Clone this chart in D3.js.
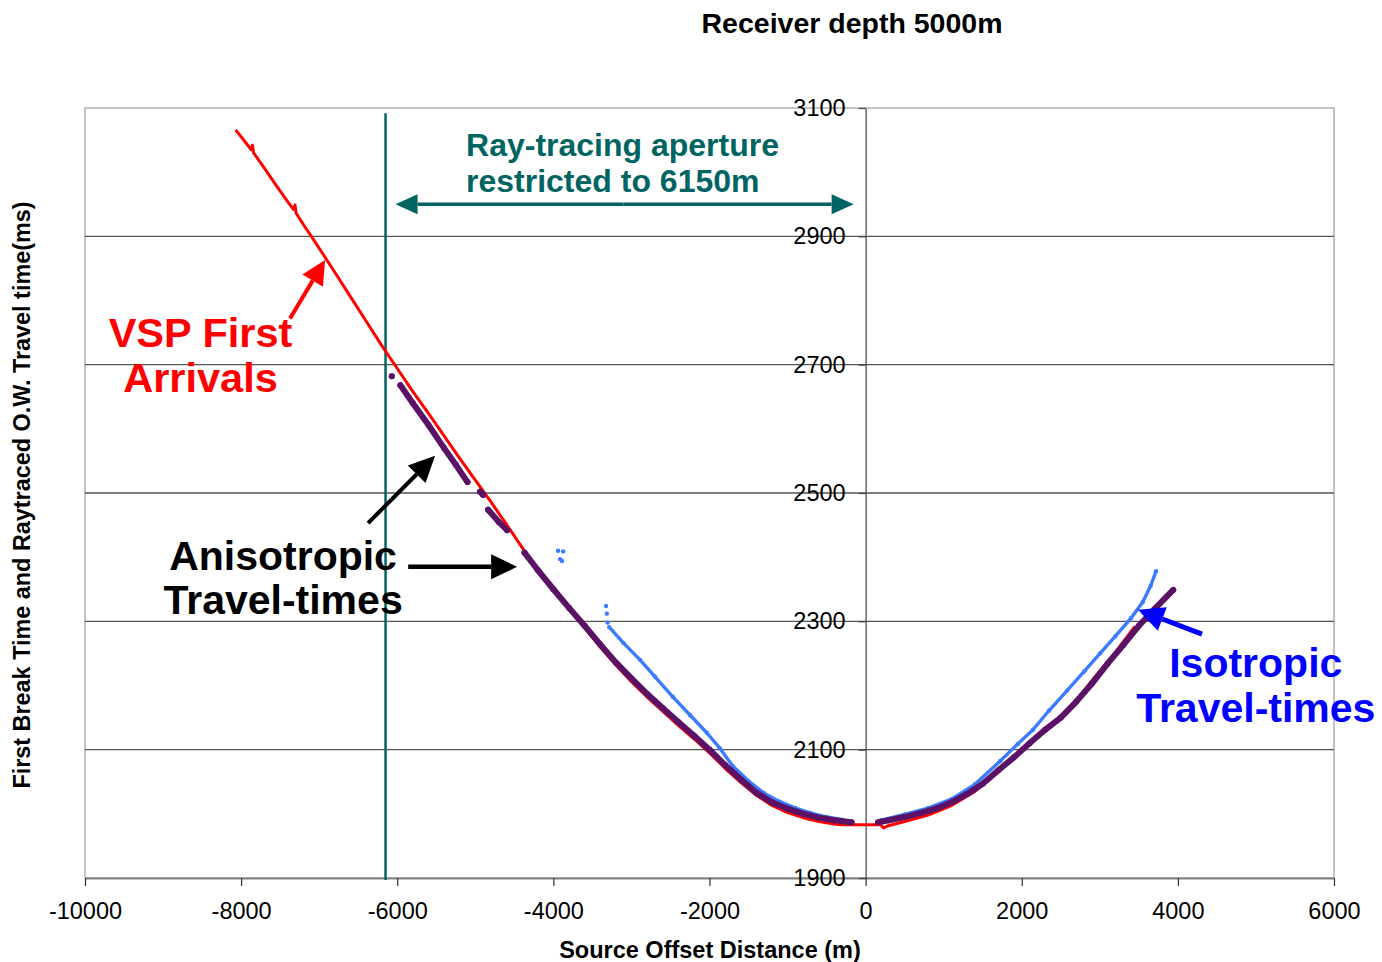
<!DOCTYPE html>
<html>
<head>
<meta charset="utf-8">
<script src="https://cdn.jsdelivr.net/npm/d3@7"></script>
<style>
  body { margin: 0; background: #ffffff; }
  text { font-family: "Liberation Sans", Arial, Helvetica, sans-serif; }
</style>
</head>
<body>
<svg id="chart" width="1382" height="962"></svg>
<script>
// ---- axis ticks ----
const xTicks = [-10000, -8000, -6000, -4000, -2000, 0, 2000, 4000, 6000];
const yTicks = [1900, 2100, 2300, 2500, 2700, 2900, 3100];

// ---- ray-tracing aperture (m) ----
const apertureOffset = -6150;

// ---- VSP first-break picks: [source offset (m), time (ms)] ----
const vspFirstArrivals = [
  [-8070, 3066], [-7960, 3049], [-7870, 3035], [-7855, 3042], [-7840, 3030],
  [-7700, 3006], [-7560, 2981], [-7420, 2957], [-7330, 2942], [-7310, 2949],
  [-7295, 2936], [-7200, 2918], [-7100, 2900], [-6960, 2874], [-6800, 2844],
  [-6600, 2806], [-6400, 2768], [-6200, 2730], [-6000, 2694], [-5800, 2658],
  [-5600, 2624], [-5400, 2589], [-5200, 2554], [-5000, 2520], [-4800, 2486],
  [-4600, 2451], [-4400, 2415], [-4200, 2381], [-4000, 2349], [-3800, 2319],
  [-3600, 2290], [-3400, 2260], [-3200, 2232], [-3000, 2206], [-2800, 2182],
  [-2600, 2160], [-2400, 2138], [-2200, 2117], [-2000, 2095], [-1800, 2071],
  [-1600, 2049], [-1400, 2029], [-1200, 2013], [-1000, 2002], [-800, 1994],
  [-600, 1988], [-400, 1984], [-300, 1983], [0, 1983], [190, 1983],
  [230, 1978], [280, 1981], [500, 1988], [800, 1998], [1100, 2013],
  [1400, 2035], [1700, 2065], [2000, 2099], [2300, 2134], [2600, 2160],
  [2900, 2208], [3200, 2252], [3450, 2292]
];

// ---- anisotropic ray-traced times (null = gap between picked runs) ----
const anisotropicTimes = [
  [-6070, 2682], null,
  [-5960, 2668], [-5800, 2640], [-5600, 2606], [-5400, 2570], [-5250, 2544], [-5100, 2517], null,
  [-4940, 2502], [-4900, 2497], null,
  [-4836, 2474], [-4700, 2455], [-4593, 2442], null,
  [-4370, 2407], [-4200, 2380], [-4000, 2350], [-3800, 2321], [-3600, 2293],
  [-3400, 2264], [-3200, 2236], [-3000, 2211], [-2800, 2187], [-2600, 2165],
  [-2400, 2143], [-2200, 2122], [-2000, 2100], [-1800, 2076], [-1600, 2054],
  [-1400, 2033], [-1200, 2018], [-1000, 2008], [-800, 2000], [-600, 1994],
  [-400, 1990], [-180, 1987], null,
  [160, 1987], [300, 1990], [500, 1995], [700, 2001], [900, 2008],
  [1100, 2018], [1300, 2031], [1500, 2047], [1700, 2068], [1900, 2088],
  [2100, 2110], [2300, 2131], [2500, 2150], [2700, 2175], [2900, 2203],
  [3100, 2234], [3300, 2263], [3500, 2293], [3700, 2319], [3940, 2349]
];

// ---- isotropic ray-traced times ----
const isotropicTimes = [
  [-3285, 2291], [-3100, 2266], [-2890, 2240], [-2700, 2214], [-2467, 2182],
  [-2250, 2154], [-2032, 2126], [-1866, 2102], [-1700, 2074], [-1500, 2051],
  [-1300, 2032], [-1100, 2019], [-900, 2009], [-700, 2001], [-500, 1995],
  [-300, 1991], null,
  [200, 1990], [500, 1999], [800, 2009], [1100, 2023], [1400, 2046],
  [1722, 2082], [1950, 2109], [2144, 2131], [2350, 2161], [2580, 2192],
  [2800, 2222], [3003, 2250], [3200, 2277], [3400, 2305], [3550, 2330],
  [3650, 2355], [3720, 2378]
];
const isotropicStrays = [
  [-3940, 2410], [-3875, 2409], [-3915, 2397], [-3890, 2394],
  [-3325, 2324], [-3315, 2312], [-3305, 2298]
];

// ---- layout ----
const svg = d3.select("#chart");
const plot = { left: 85, right: 1334, top: 108, bottom: 878 };

const x = d3.scaleLinear().domain([-10000, 6000]).range([plot.left, plot.right]);
const y = d3.scaleLinear().domain([1900, 3100]).range([plot.bottom, plot.top]);

const TEAL = "#006463", RED = "#ff0000", PURPLE = "#5b1266", LBLUE = "#3a7bff", BLUE = "#0000ff";
const plainNumber = d => String(d);

// frame
svg.append("rect")
  .attr("x", plot.left).attr("y", plot.top)
  .attr("width", plot.right - plot.left).attr("height", plot.bottom - plot.top)
  .attr("fill", "none").attr("stroke", "#9a9a9a").attr("stroke-width", 1.2);

// horizontal gridlines
svg.append("g").selectAll("line")
  .data(yTicks.filter(t => t > 1900 && t < 3100))
  .join("line")
  .attr("x1", plot.left).attr("x2", plot.right)
  .attr("y1", d => y(d)).attr("y2", d => y(d))
  .attr("stroke", "#555").attr("stroke-width", 1.3);

// x axis
const xAxis = svg.append("g")
  .attr("transform", `translate(0,${plot.bottom})`)
  .call(d3.axisBottom(x).tickValues(xTicks).tickSizeInner(8).tickSizeOuter(0).tickPadding(16)
    .tickFormat(plainNumber));
xAxis.select(".domain").attr("stroke", "#808080").attr("stroke-width", 2);
xAxis.selectAll(".tick line").attr("stroke", "#333").attr("stroke-width", 1.2);
xAxis.selectAll(".tick text").attr("font-size", 23.5).attr("fill", "#000")
  .style("font-family", '"Liberation Sans", Arial, sans-serif');

// y axis drawn at zero offset
const yAxis = svg.append("g")
  .attr("transform", `translate(${x(0)},0)`)
  .call(d3.axisLeft(y).tickValues(yTicks).tickSizeInner(7).tickSizeOuter(0).tickPadding(13)
    .tickFormat(plainNumber));
yAxis.select(".domain").attr("stroke", "#444").attr("stroke-width", 1.2);
yAxis.selectAll(".tick line").attr("stroke", "#444").attr("stroke-width", 1.2);
yAxis.selectAll(".tick text").attr("font-size", 23.5).attr("fill", "#000")
  .style("font-family", '"Liberation Sans", Arial, sans-serif');

// aperture limit
svg.append("line")
  .attr("x1", x(apertureOffset)).attr("x2", x(apertureOffset))
  .attr("y1", y(3092)).attr("y2", plot.bottom + 2)
  .attr("stroke", TEAL).attr("stroke-width", 2.5);

// ---- series ----
const line = d3.line().defined(d => d).x(d => x(d[0])).y(d => y(d[1]));

svg.append("path").datum(isotropicTimes)
  .attr("d", line).attr("fill", "none")
  .attr("stroke", LBLUE).attr("stroke-width", 3.4).attr("stroke-linejoin", "round");
svg.append("g").selectAll("circle")
  .data(isotropicTimes.filter(d => d).concat(isotropicStrays))
  .join("circle")
  .attr("cx", d => x(d[0])).attr("cy", d => y(d[1])).attr("r", 2.2)
  .attr("fill", LBLUE);

svg.append("path").datum(vspFirstArrivals)
  .attr("d", line).attr("fill", "none")
  .attr("stroke", RED).attr("stroke-width", 3).attr("stroke-linejoin", "round");

svg.append("path").datum(anisotropicTimes)
  .attr("d", line).attr("fill", "none")
  .attr("stroke", PURPLE).attr("stroke-width", 6).attr("stroke-linecap", "round")
  .attr("stroke-linejoin", "round");
svg.append("g").selectAll("circle")
  .data(anisotropicTimes.filter(d => d))
  .join("circle")
  .attr("cx", d => x(d[0])).attr("cy", d => y(d[1])).attr("r", 3)
  .attr("fill", PURPLE);

// ---- annotation helpers ----
function arrow(g, x1, y1, x2, y2, color, width, headLen, headW) {
  const a = Math.atan2(y2 - y1, x2 - x1);
  const bx = x2 - headLen * Math.cos(a), by = y2 - headLen * Math.sin(a);
  g.append("line").attr("x1", x1).attr("y1", y1).attr("x2", bx).attr("y2", by)
    .attr("stroke", color).attr("stroke-width", width);
  const px = -Math.sin(a) * headW / 2, py = Math.cos(a) * headW / 2;
  g.append("path")
    .attr("d", `M${x2},${y2}L${bx + px},${by + py}L${bx - px},${by - py}Z`)
    .attr("fill", color);
}
function label(g, lines, cx, color, size, anchor) {
  lines.forEach(([txt, t]) => {
    g.append("text").attr("x", x(cx)).attr("y", y(t))
      .attr("text-anchor", anchor || "middle").attr("font-weight", "bold")
      .attr("font-size", size).attr("fill", color).text(txt);
  });
}
const ann = svg.append("g");

// aperture double arrow
const ay = y(2950);
arrow(ann, x(-3100), ay, x(apertureOffset) + 10, ay, TEAL, 3.5, 22, 20);
arrow(ann, x(-3100), ay, x(0) - 12, ay, TEAL, 3.5, 22, 20);
label(ann, [["Ray-tracing aperture", 3025], ["restricted to 6150m", 2969]], -5119, TEAL, 32, "start");

// first arrivals
label(ann, [["VSP First", 2727], ["Arrivals", 2657]], -8520, RED, 41.5);
arrow(ann, x(-7374), y(2772), x(-6925), y(2863), RED, 4, 24, 24);

// anisotropic
label(ann, [["Anisotropic", 2380], ["Travel-times", 2311]], -7463, "#000", 41);
arrow(ann, x(-6374), y(2453), x(-5516), y(2558), "#000", 4, 26, 25);
arrow(ann, x(-5860), y(2385), x(-4464), y(2385), "#000", 4.5, 26, 25);

// isotropic
label(ann, [["Isotropic", 2213], ["Travel-times", 2143]], 4998, BLUE, 41);
arrow(ann, x(4309), y(2280), x(3489), y(2318), BLUE, 5, 26, 25);

// ---- titles ----
svg.append("text").attr("x", 852).attr("y", 33)
  .attr("text-anchor", "middle").attr("font-weight", "bold").attr("font-size", 28.5)
  .attr("fill", "#000").text("Receiver depth 5000m");
svg.append("text").attr("x", 710).attr("y", 958)
  .attr("text-anchor", "middle").attr("font-weight", "bold").attr("font-size", 23.5)
  .attr("fill", "#000").text("Source Offset Distance (m)");
svg.append("text").attr("transform", "translate(30,495) rotate(-90)")
  .attr("text-anchor", "middle").attr("font-weight", "bold").attr("font-size", 23.4)
  .attr("fill", "#000").text("First Break Time and Raytraced O.W. Travel time(ms)");
</script>
</body>
</html>
